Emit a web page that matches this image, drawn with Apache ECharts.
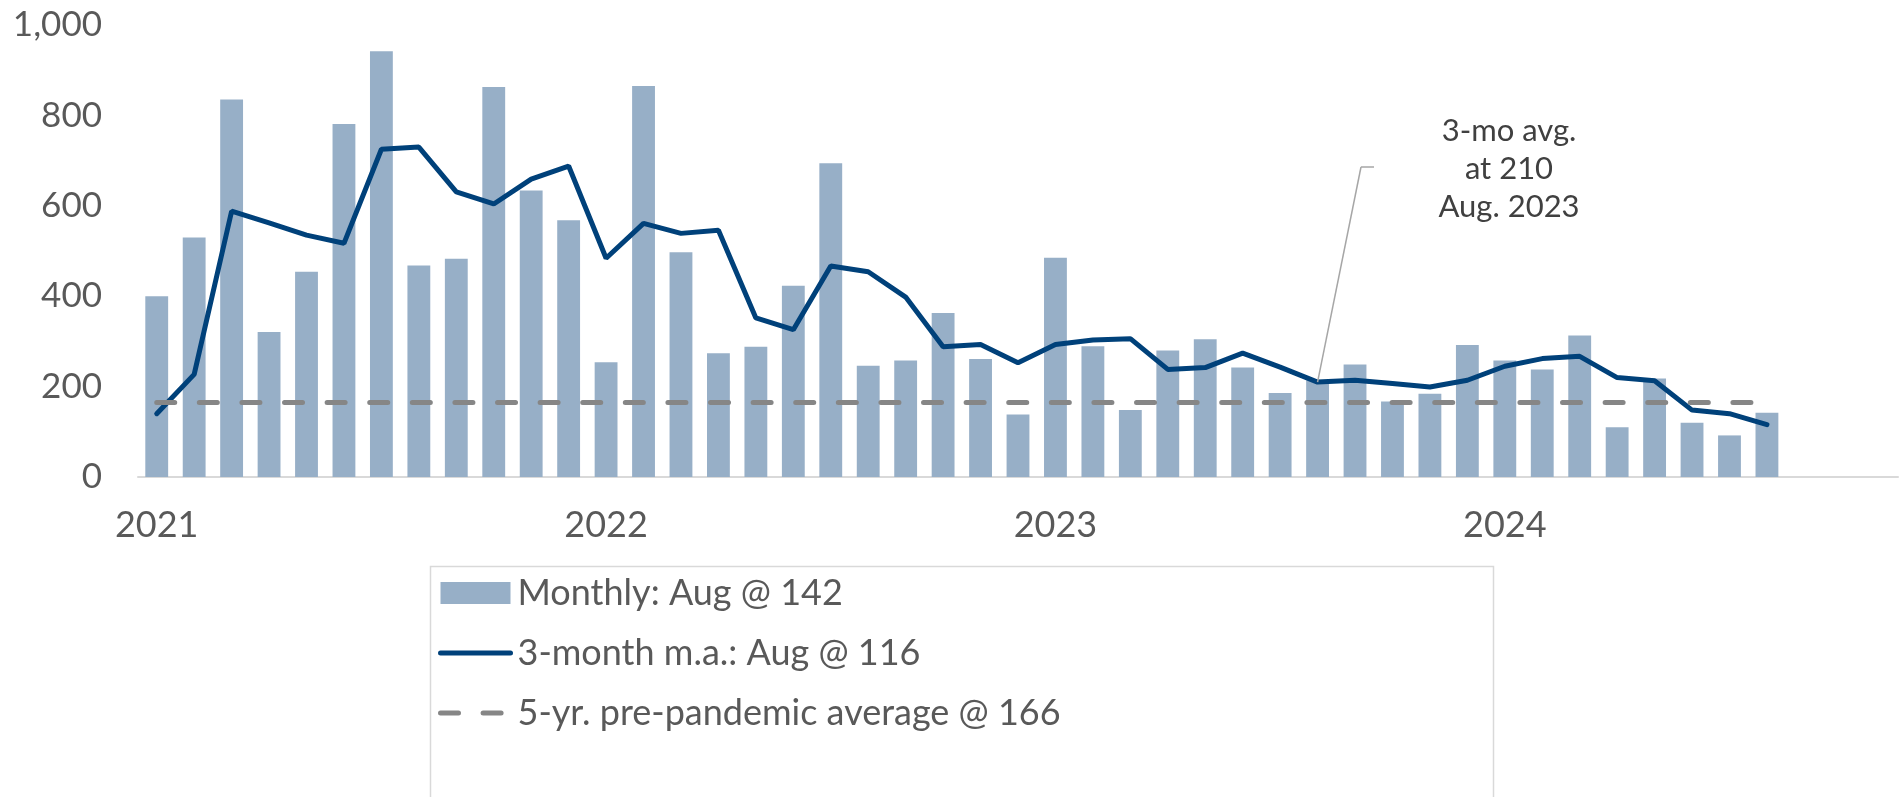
<!DOCTYPE html>
<html>
<head>
<meta charset="utf-8">
<script src="https://cdn.jsdelivr.net/npm/echarts@6/dist/echarts.min.js"></script>
<style>
  html, body { margin: 0; padding: 0; background: #fff; }
  #main { width: 1904px; height: 797px; }
</style>
</head>
<body>
<div id="main"></div>
<script>
// data
var years = ['2021', '2022', '2023', '2024'];
var monthNames = ['Jan', 'Feb', 'Mar', 'Apr', 'May', 'Jun', 'Jul', 'Aug', 'Sep', 'Oct', 'Nov', 'Dec'];

var monthly = [
  400, 530, 835, 321, 454, 781, 942, 468, 483, 863, 634, 568,
  254, 865, 497, 274, 288, 423, 694, 246, 258, 363, 261, 138,
  485, 289, 148, 280, 305, 242, 186, 214, 249, 167, 184, 292,
  258, 238, 313, 110, 218, 120, 92, 142
];
var movingAvg = [
  140, 227, 588, 562, 535, 517, 725, 730, 631, 604, 659, 688,
  484, 561, 539, 546, 352, 326, 467, 454, 398, 288, 293, 253,
  293, 303, 306, 238, 242, 274, 243, 210, 214, 207, 199, 214,
  245, 262, 267, 220, 213, 148, 140, 116
];
var prePandemicAvg = 166;
var noteMonth = 'Aug 2023';
var noteValue = 210;

// 47 monthly slots: Jan 2021 .. Nov 2024 (axis runs past the last data point)
var categories = [];
years.forEach(function (y) {
  monthNames.forEach(function (m) {
    if (categories.length < 47) categories.push(m + ' ' + y);
  });
});

var barColor = '#97afc7';
var lineColor = '#00417a';
var avgColor = '#868686';
var labelColor = '#595959';
var fontName = 'Lato';
var avgDash = [18, 24.6];

var myChart = echarts.init(document.getElementById('main'));

var option = {
  animation: false,
  textStyle: { fontFamily: fontName },
  grid: {
    left: 138,
    right: 6,
    top: 25,
    bottom: 320,
    outerBoundsMode: 'none'
  },
  legend: {
    orient: 'vertical',
    left: 438,
    top: 575,
    padding: 0,
    itemWidth: 70,
    itemHeight: 22,
    itemGap: 24,
    textStyle: { fontFamily: fontName, fontSize: 36, color: labelColor, lineHeight: 36, padding: [0, 0, 0, 2] },
    data: [
      { name: 'Monthly: Aug @ ' + monthly[monthly.length - 1], icon: 'rect' },
      {
        name: '3-month m.a.: Aug @ ' + movingAvg[movingAvg.length - 1],
        itemStyle: { opacity: 0 },
        lineStyle: { width: 5, color: lineColor, cap: 'round' }
      },
      {
        name: '5-yr. pre-pandemic average @ ' + prePandemicAvg,
        itemStyle: { opacity: 0 },
        lineStyle: { width: 5, color: avgColor, type: avgDash, cap: 'round' }
      }
    ]
  },
  xAxis: {
    type: 'category',
    data: categories,
    boundaryGap: true,
    axisLine: { lineStyle: { color: '#d9d9d9', width: 2 } },
    axisTick: { show: false },
    axisLabel: {
      interval: function (idx) { return idx % 12 === 0; },
      formatter: function (v) { return v.split(' ')[1]; },
      color: labelColor,
      fontSize: 36,
      margin: 30
    },
    splitLine: { show: false }
  },
  yAxis: {
    type: 'value',
    min: 0,
    max: 1000,
    interval: 200,
    axisLine: { show: false },
    axisTick: { show: false },
    splitLine: { show: false },
    axisLabel: {
      color: labelColor,
      fontSize: 35,
      margin: 36,
      formatter: function (v) { return v.toLocaleString('en-US'); }
    }
  },
  series: [
    {
      name: 'Monthly: Aug @ ' + monthly[monthly.length - 1],
      type: 'bar',
      data: monthly,
      barWidth: '61%',
      itemStyle: { color: barColor },
      z: 1
    },
    {
      name: '5-yr. pre-pandemic average @ ' + prePandemicAvg,
      type: 'line',
      data: [],
      symbol: 'none',
      itemStyle: { color: avgColor },
      lineStyle: { color: avgColor, width: 5, type: avgDash, cap: 'round' },
      z: 2,
      markLine: {
        silent: true,
        symbol: 'none',
        label: { show: false },
        lineStyle: { color: avgColor, width: 5, type: avgDash, cap: 'round' },
        data: [[
          { coord: [categories[0], prePandemicAvg] },
          { coord: [categories[monthly.length - 1], prePandemicAvg] }
        ]]
      }
    },
    {
      name: '3-month m.a.: Aug @ ' + movingAvg[movingAvg.length - 1],
      type: 'line',
      data: movingAvg,
      symbol: 'none',
      itemStyle: { color: lineColor },
      lineStyle: { color: lineColor, width: 5, cap: 'round' },
      z: 3,
      markLine: {
        silent: true,
        symbol: 'none',
        label: { show: false },
        lineStyle: { color: '#a6a6a6', width: 1.5, type: 'solid' },
        data: [
          [{ coord: [noteMonth, noteValue] }, { x: 1361, y: 167 }],
          [{ x: 1361, y: 167 }, { x: 1374, y: 167 }]
        ]
      }
    }
  ],
  graphic: [
    {
      type: 'rect',
      left: 428,
      top: 564,
      shape: { width: 1063, height: 300 },
      style: { fill: 'none', stroke: '#d9d9d9', lineWidth: 1.5 },
      silent: true
    },
    {
      type: 'text',
      x: 1509,
      y: 112,
      style: {
        text: '3-mo avg.\nat ' + noteValue + '\nAug. 2023',
        font: '31px Lato',
        fill: '#404040',
        align: 'center',
        lineHeight: 38
      }
    }
  ]
};

myChart.setOption(option);
</script>
</body>
</html>
